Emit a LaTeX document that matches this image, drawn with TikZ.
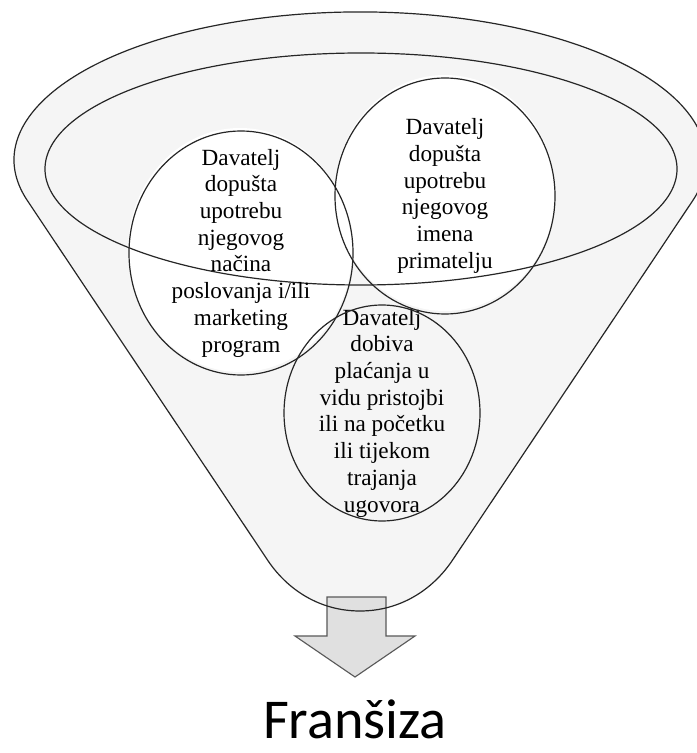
\documentclass[tikz,border=0pt]{standalone}
\usepackage{fontspec}
\setmainfont{Liberation Serif}
\newfontfamily\carlito{Carlito}
\tikzset{
  rub/.style={draw=black!85, line width=0.85pt},
  tekst/.style={align=center, inner sep=0pt, font=\fontsize{16.5}{19}\selectfont},
  pijl/.style={fill=black!12, draw=black!65, line width=0.8pt}
}
\newcommand\lijevak{(27.3,200.5) arc[start angle=164.1, end angle=375.9, x radius=346, y radius=148]
  -- (452.6,560) .. controls (432.6,590) and (400,611) .. (360,611)
  .. controls (320,611) and (287.5,590) .. (267.5,560) -- cycle}
\begin{document}
\begin{tikzpicture}[x=0.025cm, y=-0.025cm]
  \useasboundingbox[fill=white] (0,0) rectangle (696,753);
  \fill[black!4] \lijevak;
  \fill[white] (240,250) ellipse [x radius=112, y radius=122];
  \fill[white] (445,193) ellipse [x radius=110, y radius=118];
  \filldraw[pijl] (327,597) -- (386,597) -- (386,636) -- (415,636) -- (355,677) -- (295,636) -- (327,636) -- cycle;
  \draw[rub] \lijevak;
  \draw[rub] (361,169) ellipse [x radius=316, y radius=116];

  \node[tekst] (lijevo) at (241,253) {Davatelj\\dopušta\\upotrebu\\njegovog\\načina\\poslovanja i/ili\\marketing\\program};
  \node[tekst] (desno) at (445,196) {Davatelj\\dopušta\\upotrebu\\njegovog\\imena\\primatelju};
  \node[tekst] (dolje) at (382,413) {Davatelj\\dobiva\\plaćanja u\\vidu pristojbi\\ili na početku\\ili tijekom\\trajanja\\ugovora};
  \draw[rub] (lijevo.center) ellipse [x radius=112, y radius=122];
  \draw[rub] (desno.center) ellipse [x radius=110, y radius=118];
  \draw[rub] (dolje.center) ellipse [x radius=98, y radius=108];

  \node[anchor=base, inner sep=0pt, font=\carlito\fontsize{40}{44}\selectfont] (fransiza) at (355,738) {Franšiza};
\end{tikzpicture}
\end{document}
